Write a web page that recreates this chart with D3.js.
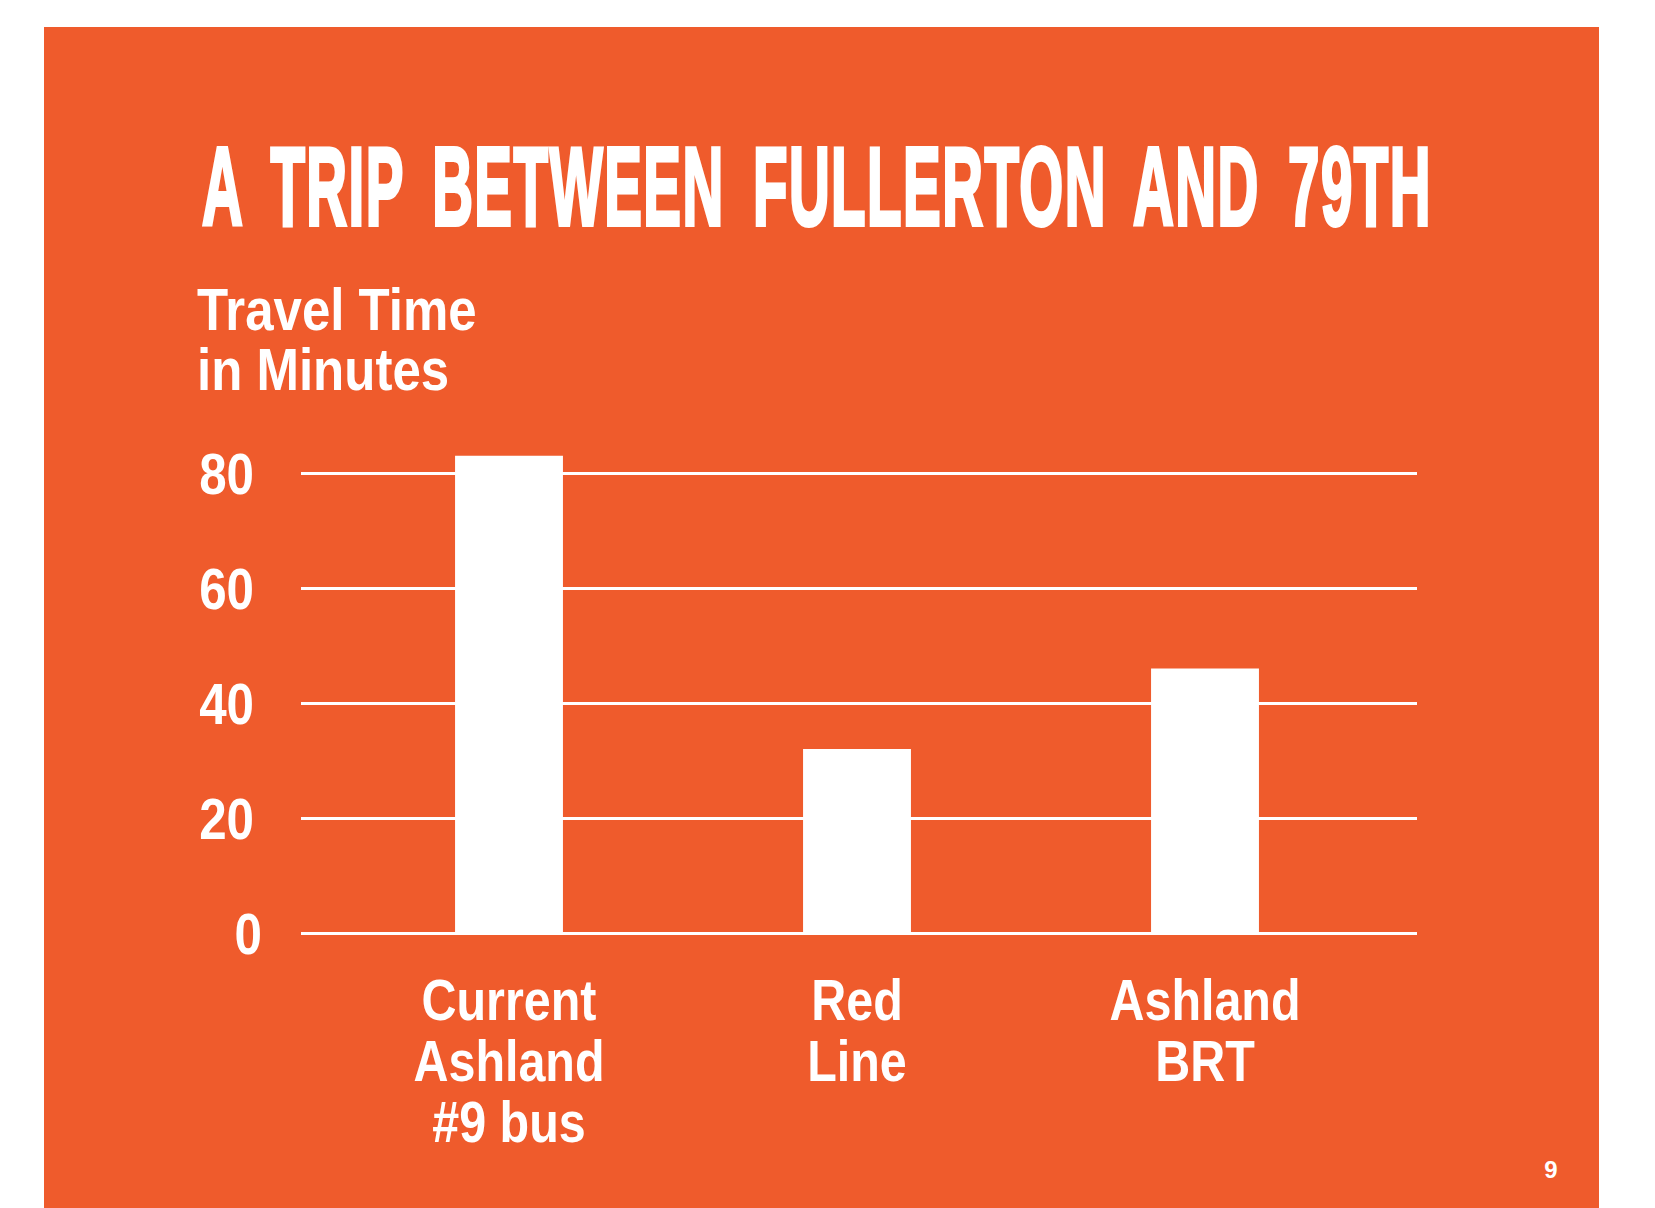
<!DOCTYPE html>
<html><head><meta charset="utf-8">
<script src="https://cdn.jsdelivr.net/npm/d3@7"></script>
<style>
html,body{margin:0;padding:0;background:#fff;}
svg{display:block;}
text{font-family:"Liberation Sans",Arial,sans-serif;font-weight:bold;fill:#fff;}
</style></head>
<body>
<script>
const title = "A TRIP BETWEEN FULLERTON AND 79TH";
const subtitleLines = ["Travel Time", "in Minutes"];
const categories = ["Current Ashland #9 bus", "Red Line", "Ashland BRT"];
const categoryLines = [["Current", "Ashland", "#9 bus"], ["Red", "Line"], ["Ashland", "BRT"]];
const travelMinutes = [83, 32, 46];
const yTicks = [0, 20, 40, 60, 80];
const pageNumber = "9";

const W = 1655, H = 1208;
const ORANGE = "#EF5B2C";
const COND = 0.85;

const svg = d3.select("body").append("svg").attr("width", W).attr("height", H);
svg.append("rect").attr("x", 44).attr("y", 27).attr("width", 1555).attr("height", H - 27).attr("fill", ORANGE);

// condensed text helper
function ctext(x, y, str, size, anchor) {
  return svg.append("text")
    .attr("transform", `translate(${x},${y}) scale(${COND},1)`)
    .attr("text-anchor", anchor || "start")
    .style("font-size", size + "px")
    .text(str);
}

// Title (condensed display face emulated)
svg.append("text")
  .attr("x", 202).attr("y", 225)
  .attr("textLength", 1230).attr("lengthAdjust", "spacingAndGlyphs")
  .style("font-size", "112px")
  .style("letter-spacing", "3px")
  .style("word-spacing", "22px")
  .attr("stroke", "#fff").attr("stroke-width", 4).attr("stroke-linejoin", "miter")
  .text(title);

// Subtitle
subtitleLines.forEach((s, i) => ctext(197, 330 + i * 60, s, 60));

// Scales
const gridLeft = 301, gridRight = 1417;
const y = d3.scaleLinear().domain([0, 80]).range([933, 473]);
const x = d3.scaleBand().domain(categories).range([335, 1379]).paddingInner(0.69).paddingOuter(0.345);

// gridlines via axis
const axis = d3.axisLeft(y).tickValues(yTicks).tickSize(-(gridRight - gridLeft)).tickFormat("");
const g = svg.append("g").attr("transform", `translate(${gridLeft},0)`).call(axis);
g.select(".domain").remove();
g.selectAll(".tick line").attr("stroke", "#fff").attr("stroke-width", 3);

// tick labels
yTicks.forEach(t => ctext(t === 0 ? 262 : 254, y(t) + 21, String(t), 58, "end"));

// bars
svg.append("g").selectAll("rect").data(travelMinutes).join("rect")
  .attr("x", (d, i) => x(categories[i]))
  .attr("y", d => y(d))
  .attr("width", x.bandwidth())
  .attr("height", d => y(0) - y(d) + 2)
  .attr("fill", "#fff");

// category labels
categoryLines.forEach((lines, i) => {
  const cx = x(categories[i]) + x.bandwidth() / 2;
  lines.forEach((l, j) => ctext(cx, 1020 + j * 61, l, 57, "middle"));
});

// page number
svg.append("text").attr("x", 1551).attr("y", 1178).attr("text-anchor", "middle")
  .style("font-size", "24px").text(pageNumber);
</script>
</body></html>
